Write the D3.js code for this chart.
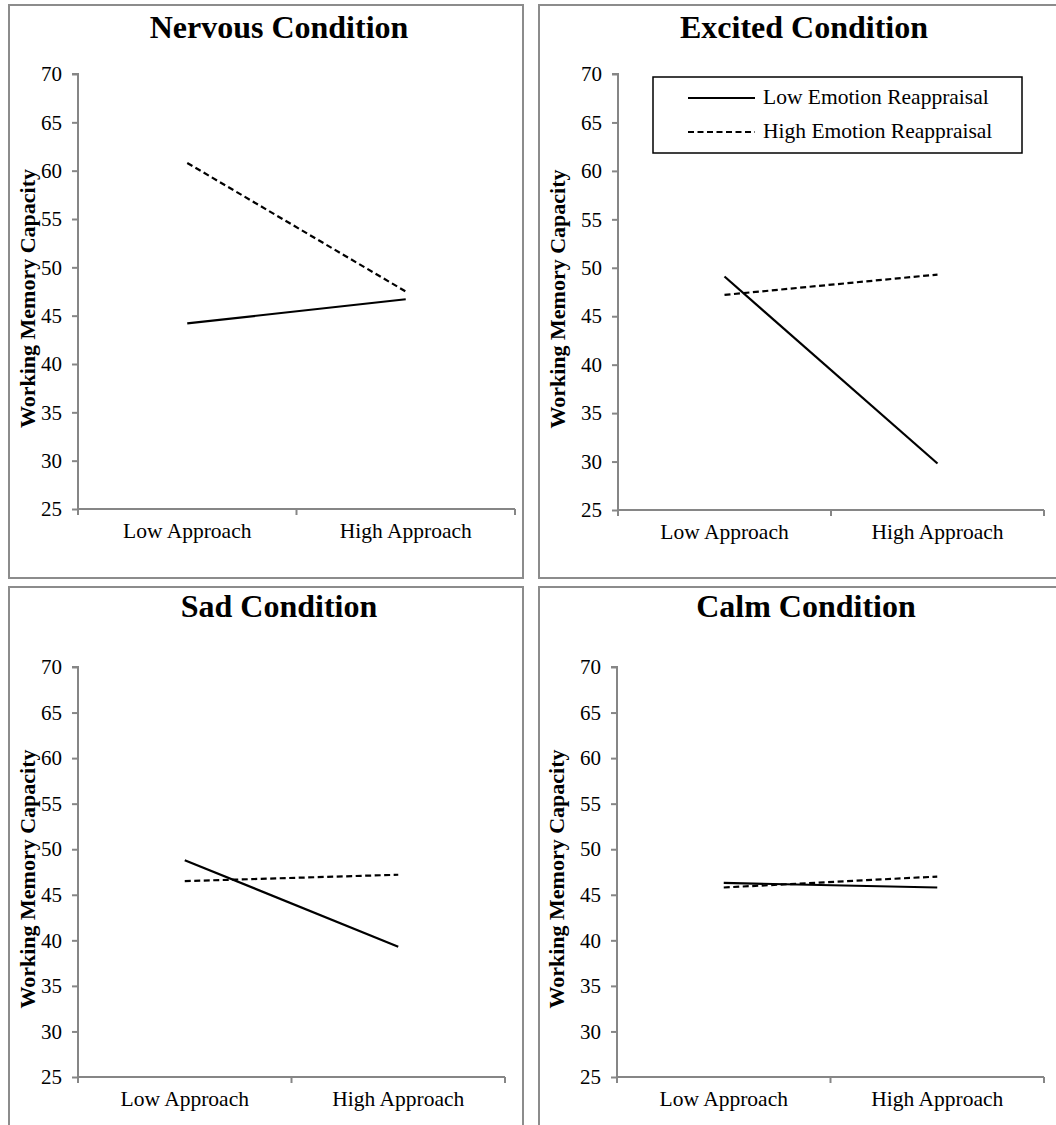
<!DOCTYPE html>
<html>
<head>
<meta charset="utf-8">
<script src="https://cdn.jsdelivr.net/npm/d3@7"></script>
<style>
  html, body { margin: 0; padding: 0; background: #fff; }
  svg { display: block; }
</style>
</head>
<body>
<div id="chart"></div>
<script>
// chart data
var conditions = ['Nervous Condition', 'Excited Condition', 'Sad Condition', 'Calm Condition'];
var categories = ['Low Approach', 'High Approach'];
var seriesNames = ['Low Emotion Reappraisal', 'High Emotion Reappraisal'];
var lowReappraisal = [[44.2, 46.7], [49.1, 29.8], [48.8, 39.3], [46.3, 45.8]];
var highReappraisal = [[60.8, 47.5], [47.2, 49.3], [46.5, 47.2], [45.8, 47.0]];
var yTicks = [25, 30, 35, 40, 45, 50, 55, 60, 65, 70];
var yLabel = 'Working Memory Capacity';

// layout of the four panels (pixels)
var panels = [
    {box: [9, 5, 514, 573], plot: [78, 74, 515, 509], titleX: 279, titleY: 38, labelX: 28},
    {box: [539, 5, 530, 573], plot: [618, 74, 1044, 510], titleX: 804, titleY: 38, labelX: 558},
    {box: [9, 587, 514, 560], plot: [78, 667, 505, 1077], titleX: 279, titleY: 617, labelX: 28},
    {box: [539, 587, 530, 560], plot: [617, 667, 1044, 1077], titleX: 806, titleY: 617, labelX: 557}
];

var _axisColor = '#868686';
var _font = '"Liberation Serif", "Times New Roman", serif';

var svg = d3.select('#chart').append('svg')
    .attr('width', 1056)
    .attr('height', 1125)
    .style('font-family', _font);

panels.forEach(function(p, i){
    var g = svg.append('g');
    var x0 = p.plot[0], y0 = p.plot[1], x1 = p.plot[2], y1 = p.plot[3];

    // panel frame
    g.append('rect')
        .attr('x', p.box[0]).attr('y', p.box[1])
        .attr('width', p.box[2]).attr('height', p.box[3])
        .attr('fill', 'none')
        .attr('stroke', '#8c8c8c')
        .attr('stroke-width', 2);

    g.append('text')
        .attr('x', p.titleX).attr('y', p.titleY)
        .attr('text-anchor', 'middle')
        .style('font-size', '32px')
        .style('font-weight', 'bold')
        .text(conditions[i]);

    var y = d3.scaleLinear().domain([25, 70]).range([y1, y0]);
    var xBand = d3.scaleBand().domain(categories).range([x0, x1]);
    var x = function(c){ return xBand(c) + xBand.bandwidth() / 2; };

    // y axis
    var yAxis = g.append('g')
        .attr('transform', 'translate(' + x0 + ',0)')
        .call(d3.axisLeft(y).tickValues(yTicks).tickSize(6).tickPadding(10).tickFormat(d3.format('d')));
    yAxis.select('.domain').attr('stroke', _axisColor).attr('stroke-width', 2).attr('d', 'M-6,' + y0 + 'H0V' + y1);
    yAxis.selectAll('.tick line').attr('stroke', _axisColor).attr('stroke-width', 2);
    yAxis.selectAll('.tick text')
        .attr('fill', '#000')
        .style('font-family', _font)
        .style('font-size', '21px');

    // x axis: ticks at category boundaries
    var xg = g.append('g');
    xg.append('line')
        .attr('x1', x0).attr('x2', x1).attr('y1', y1).attr('y2', y1)
        .attr('stroke', _axisColor).attr('stroke-width', 2);
    xg.selectAll('line.tk')
        .data([x0, xBand(categories[1]), x1])
        .enter().append('line')
            .attr('class', 'tk')
            .attr('x1', function(d){ return d; }).attr('x2', function(d){ return d; })
            .attr('y1', y1).attr('y2', y1 + 6)
            .attr('stroke', _axisColor).attr('stroke-width', 2);
    xg.selectAll('text')
        .data(categories)
        .enter().append('text')
            .attr('x', function(d){ return x(d); })
            .attr('y', y1 + 29)
            .attr('text-anchor', 'middle')
            .style('font-size', '21.5px')
            .text(function(d){ return d; });

    // y axis title
    g.append('text')
        .attr('transform', 'translate(' + (p.labelX + 7) + ',' + ((y0 + y1) / 2 + 7) + ') rotate(-90)')
        .attr('text-anchor', 'middle')
        .style('font-size', '22px')
        .style('font-weight', 'bold')
        .text(yLabel);

    var line = d3.line()
        .x(function(d, j){ return x(categories[j]); })
        .y(function(d){ return y(d); });

    g.append('path')
        .datum(lowReappraisal[i])
        .attr('d', line)
        .attr('fill', 'none')
        .attr('stroke', '#000')
        .attr('stroke-width', 2.2);

    g.append('path')
        .datum(highReappraisal[i])
        .attr('d', line)
        .attr('fill', 'none')
        .attr('stroke', '#000')
        .attr('stroke-width', 2.2)
        .attr('stroke-dasharray', '6,3.5');
});

// legend (in Excited panel)
var legend = svg.append('g');
legend.append('rect')
    .attr('x', 653).attr('y', 77).attr('width', 369).attr('height', 76)
    .attr('fill', '#fff').attr('stroke', '#000').attr('stroke-width', 1.5);
var items = legend.selectAll('g.item')
    .data(seriesNames)
    .enter().append('g')
        .attr('class', 'item')
        .attr('transform', function(d, i){ return 'translate(0,' + (98 + i * 34) + ')'; });
items.append('line')
    .attr('x1', 688).attr('x2', 755).attr('y1', 0).attr('y2', 0)
    .attr('stroke', '#000').attr('stroke-width', 2.2)
    .attr('stroke-dasharray', function(d, i){ return i ? '6,3.5' : null; });
items.append('text')
    .attr('x', 763).attr('y', 6)
    .style('font-size', '21.5px')
    .text(function(d){ return d; });
</script>
</body>
</html>
